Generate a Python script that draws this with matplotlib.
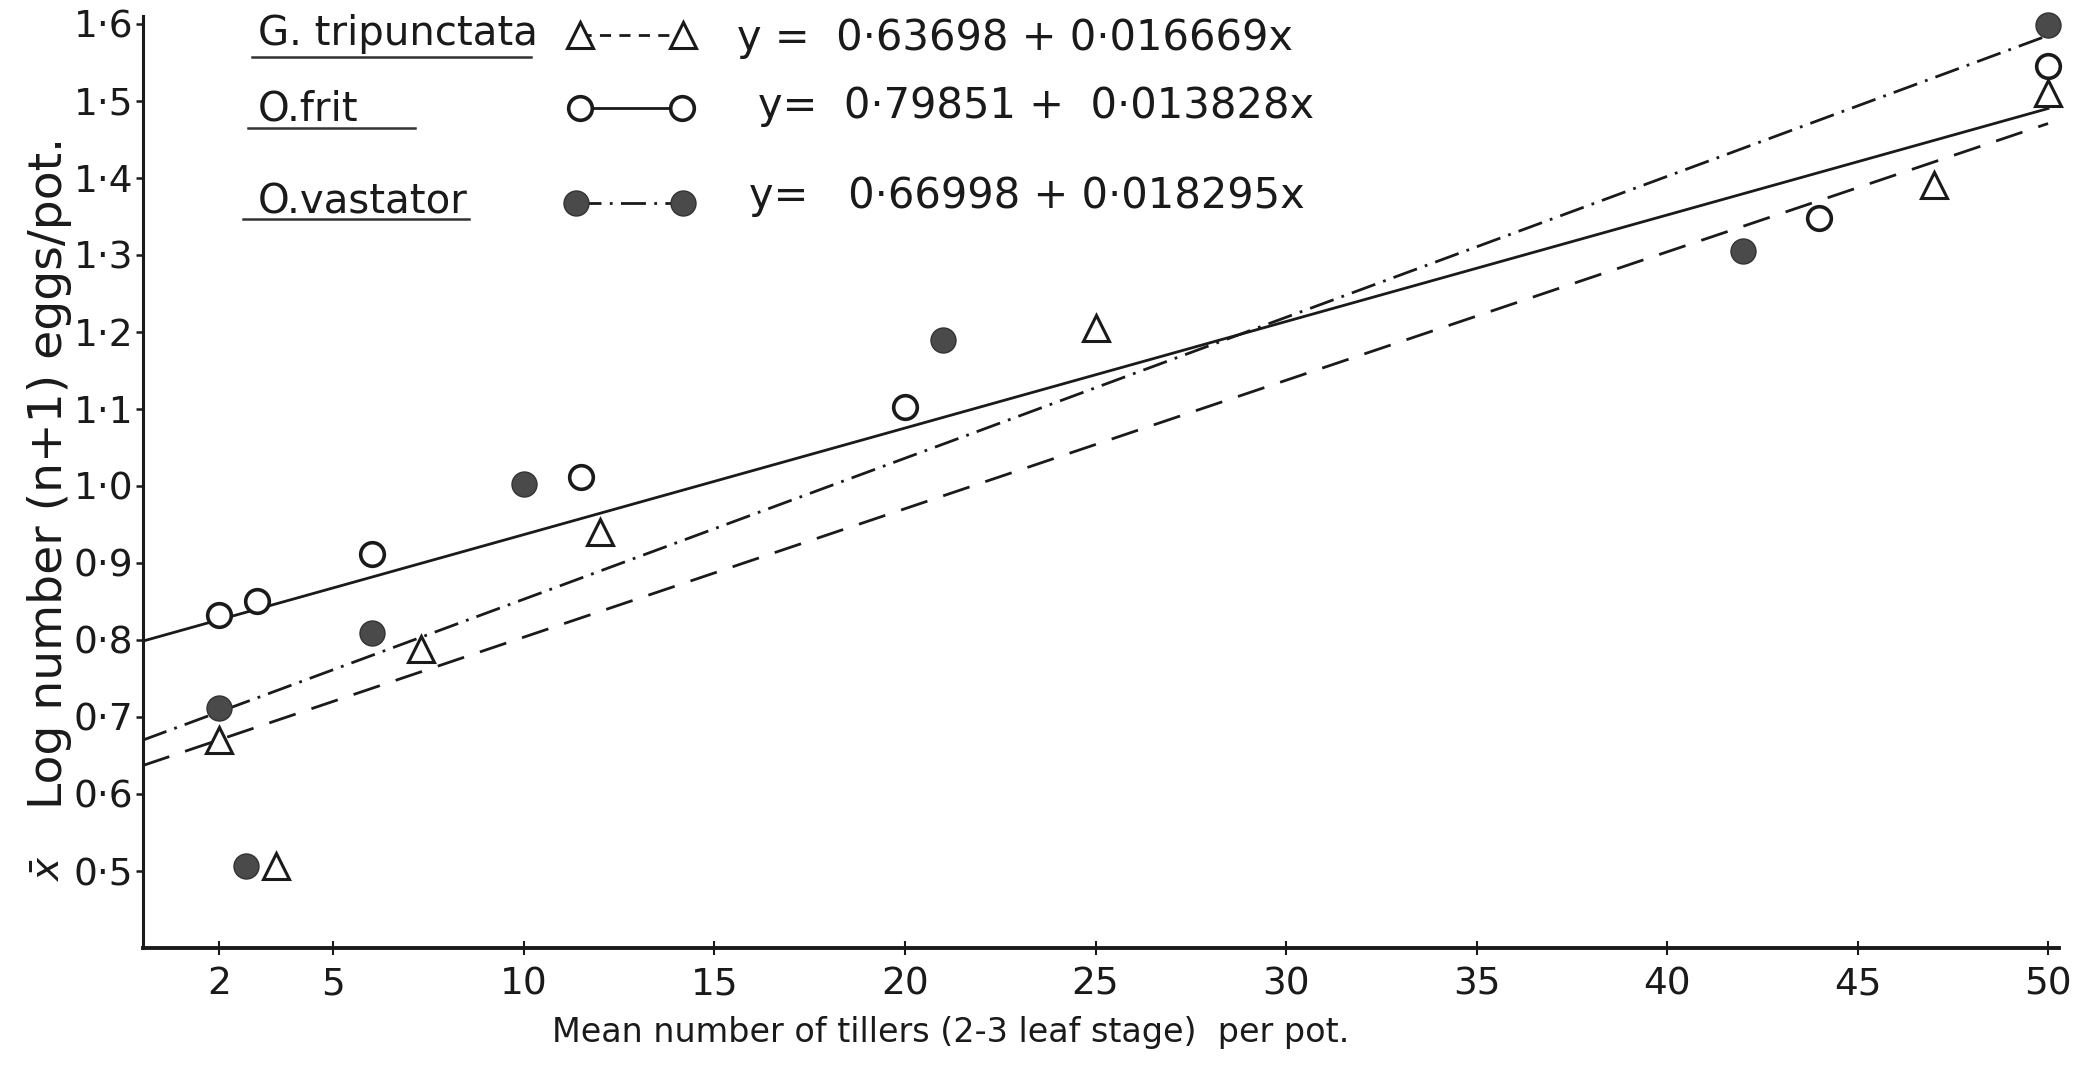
import matplotlib.pyplot as plt
from matplotlib.ticker import FuncFormatter

# Mean tillers per pot against log(n+1) eggs per pot
trip_x = [2, 3.5, 7.3, 12, 25, 47, 50]
trip_y = [0.670, 0.507, 0.788, 0.940, 1.205, 1.390, 1.510]
frit_x = [2, 3, 6, 11.5, 20, 44, 50]
frit_y = [0.833, 0.851, 0.911, 1.012, 1.102, 1.348, 1.545]
vast_x = [2, 2.7, 6, 10, 21, 42, 50]
vast_y = [0.712, 0.507, 0.809, 1.003, 1.189, 1.305, 1.598]

# regression lines: (intercept, slope)
trip_fit = (0.63698, 0.016669)
frit_fit = (0.79851, 0.013828)
vast_fit = (0.66998, 0.018295)
fit_range = [0, 50]

x_ticks = [2, 5, 10, 15, 20, 25, 30, 35, 40, 45, 50]
y_ticks = [0.5, 0.6, 0.7, 0.8, 0.9, 1.0, 1.1, 1.2, 1.3, 1.4, 1.5, 1.6]

ink = '#1a1a1a'
dashed = (0, (10, 6))
dashdot = (0, (9, 3, 1, 3))

fig = plt.figure(figsize=(20.9, 10.67), dpi=100)
ax = fig.add_axes([0.0684, 0.1115, 0.917, 0.8735])


def fit_line(fit):
    return [fit[0] + fit[1] * x for x in fit_range]


ax.plot(fit_range, fit_line(trip_fit), color=ink, lw=2, ls=dashed, zorder=2)
ax.plot(fit_range, fit_line(frit_fit), color=ink, lw=2, zorder=2)
ax.plot(fit_range, fit_line(vast_fit), color=ink, lw=2, ls=dashdot, zorder=2)

ax.plot(trip_x, trip_y, ls='none', marker='^', ms=19, mfc='white', mec=ink,
        mew=2.2, zorder=3, clip_on=False)
ax.plot(frit_x, frit_y, ls='none', marker='o', ms=17, mfc='white', mec=ink,
        mew=2.6, zorder=3, clip_on=False)
ax.plot(vast_x, vast_y, ls='none', marker='o', ms=18, mfc='#4a4a4a',
        mec='#333333', mew=1, zorder=4, clip_on=False)

ax.set_xlim(0, 50.3)
ax.set_ylim(0.40, 1.61)
ax.set_xticks(x_ticks)
ax.set_yticks(y_ticks)
ax.yaxis.set_major_formatter(FuncFormatter(lambda v, p: f'{v:.1f}'.replace('.', '\u00b7')))

for side in ['top', 'right']:
    ax.spines[side].set_visible(False)
ax.spines['left'].set_linewidth(2.2)
ax.spines['bottom'].set_linewidth(2.8)
ax.spines['left'].set_color(ink)
ax.spines['bottom'].set_color(ink)
ax.tick_params(axis='y', direction='out', length=5, width=1.8, pad=2,
               labelsize=27, colors=ink)
ax.tick_params(axis='x', direction='inout', length=10, width=1.5, pad=8,
               labelsize=27, colors=ink)

ax.set_xlabel('Mean number of tillers (2-3 leaf stage)  per pot.', fontsize=24,
              color=ink, va='center')
ax.xaxis.set_label_coords(0.4215, -0.091)
ax.set_ylabel('Log number (n+1) eggs/pot.', fontsize=34, color=ink, va='center')
ax.yaxis.set_label_coords(-0.049, 0.51)
ax.text(-0.049, 0.085, r'$\bar{x}$', rotation=90, fontsize=28, color=ink,
        ha='center', va='center', transform=ax.transAxes)

# key: species name, symbol and fitted equation
names = ['G. tripunctata', 'O.frit', 'O.vastator']
equations = ['y =  0\u00b763698 + 0\u00b7016669x',
             'y=  0\u00b779851 +  0\u00b7013828x',
             'y=   0\u00b766998 + 0\u00b7018295x']
name_base = [0.9689, 0.8883, 0.7886]
underline = [(0.0569, 0.2025, 0.956), (0.0548, 0.1419, 0.8798),
             (0.0522, 0.170, 0.7822)]
eq_left = [0.310, 0.3208, 0.3161]
eq_base = [0.9635, 0.8906, 0.794]
key_y = [0.9796, 0.9013, 0.7994]
key_x = [(0.228, 0.282), (0.228, 0.281), (0.226, 0.282)]
key_style = [dict(ls=(0, (4, 3)), marker='^', ms=19, mfc='white', mec=ink,
                  mew=2.2),
             dict(ls='-', marker='o', ms=17, mfc='white', mec=ink, mew=2.6),
             dict(ls=dashdot, marker='o', ms=18, mfc='#4a4a4a', mec='#333333',
                  mew=1)]

for i in range(3):
    ax.text(0.060, name_base[i], names[i], fontsize=29, color=ink,
            va='baseline', transform=ax.transAxes)
    x0, x1, yu = underline[i]
    ax.plot([x0, x1], [yu, yu], color='#333333', lw=1.8,
            transform=ax.transAxes, clip_on=False)
    ax.plot(key_x[i], [key_y[i], key_y[i]], color=ink, lw=2,
            transform=ax.transAxes, clip_on=False, **key_style[i])
    ax.text(eq_left[i], eq_base[i], equations[i], fontsize=30, color=ink,
            va='baseline', transform=ax.transAxes)

fig.savefig('out.png', dpi=100, facecolor='white')
